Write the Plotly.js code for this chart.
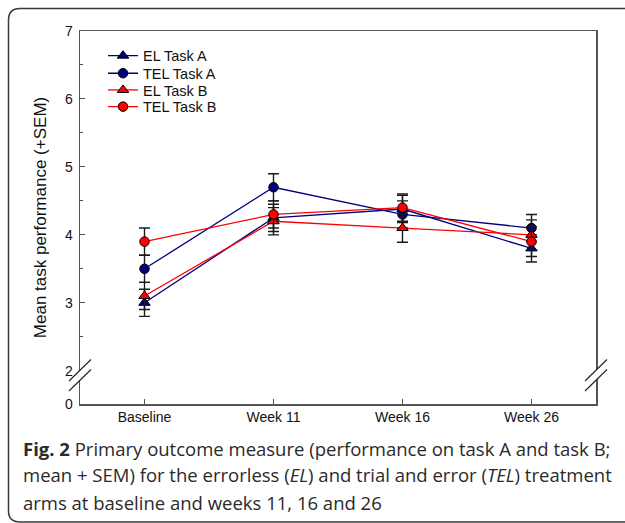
<!DOCTYPE html>
<html>
<head>
<meta charset="utf-8">
<script src="https://cdn.plot.ly/plotly-3.0.1.min.js"></script>
<style>html,body{margin:0;padding:0;background:#fff;}#chart{width:625px;height:523px;}</style>
</head>
<body>
<div id="chart"></div>
<script>
// ---- data ----
var categories = ["Baseline", "Week 11", "Week 16", "Week 26"];
var elTaskA  = [3.0, 4.25, 4.38, 3.8];
var elTaskAErr = [0.2, 0.2, 0.2, 0.2];
var telTaskA = [3.5, 4.7, 4.3, 4.1];
var telTaskAErr = [0.2, 0.2, 0.2, 0.2];
var elTaskB  = [3.1, 4.2, 4.1, 4.0];
var elTaskBErr = [0.2, 0.2, 0.21, 0.22];
var telTaskB = [3.9, 4.3, 4.4, 3.9];
var telTaskBErr = [0.2, 0.2, 0.2, 0.22];
var seriesNames = ["EL Task A", "TEL Task A", "EL Task B", "TEL Task B"];
// broken axis: "0" label drawn at the bottom of the compressed range
var yTickVals = [1.51, 2, 3, 4, 5, 6, 7];
var yTickText = ["0", "2", "3", "4", "5", "6", "7"];
var yMinorVals = [2.5, 3.5, 4.5, 5.5, 6.5];

// ---- layout helpers (pixel -> paper) ----
var L = 80, R = 596, T = 31, B = 404;
function px(x) { return (x - L) / (R - L); }
function py(y) { return (B - y) / (B - T); }

var navy = "#000080", red = "#ff0000";
var legendIds = ["legend", "legend2", "legend3", "legend4"];
function mk(i, y, err, color, symbol, size) {
  return {
    type: "scatter", mode: "lines+markers", name: seriesNames[i], legend: legendIds[i],
    x: categories, y: y,
    line: {color: color, width: 1.3},
    marker: {color: color, symbol: symbol, size: size, line: {color: "#000", width: 1}},
    error_y: {type: "data", array: err, visible: true, color: "#1a1a1a", thickness: 1.4, width: 5.5}
  };
}
var data = [
  mk(0, elTaskA, elTaskAErr, navy, "triangle-up", 10),
  mk(1, telTaskA, telTaskAErr, navy, "circle", 9.5),
  mk(2, elTaskB, elTaskBErr, red, "triangle-up", 10),
  mk(3, telTaskB, telTaskBErr, red, "circle", 9.5)
];

function seg(x0, y0, x1, y1, color, w) {
  return {type: "line", xref: "paper", yref: "paper", x0: px(x0), y0: py(y0), x1: px(x1), y1: py(y1),
          line: {color: color, width: w}, layer: "above"};
}
function breakMarks(ax) {
  return [
    {type: "path", xref: "paper", yref: "paper", layer: "above",
     path: "M " + px(ax - 11) + " " + py(381) + " L " + px(ax + 11) + " " + py(359.5) +
           " L " + px(ax + 11) + " " + py(369.5) + " L " + px(ax - 11) + " " + py(391) + " Z",
     fillcolor: "#ffffff", line: {width: 0}},
    seg(ax - 11, 381, ax + 11, 359.5, "#222", 1.1),
    seg(ax - 11, 391, ax + 11, 369.5, "#222", 1.1)
  ];
}
var shapes = [].concat(breakMarks(L), breakMarks(R));
// rounded outer figure frame
shapes.push({
  type: "path", xref: "paper", yref: "paper", layer: "above",
  path: "M " + px(640) + " " + py(8.5) + " L " + px(20) + " " + py(8.5) +
        " Q " + px(8.5) + " " + py(8.5) + " " + px(8.5) + " " + py(20) +
        " L " + px(8.5) + " " + py(511) +
        " Q " + px(8.5) + " " + py(522) + " " + px(20) + " " + py(522) +
        " L " + px(640) + " " + py(522),
  line: {color: "#3a3a3a", width: 1.5}
});

var capFont = {family: "'Open Sans', sans-serif", size: 18.5, color: "#2a2a2a"};
function cap(text, y) {
  return {xref: "paper", yref: "paper", x: px(21), y: py(y), xanchor: "left", yanchor: "middle",
          text: text, showarrow: false, font: capFont, align: "left"};
}
var annotations = [
  cap("<b>Fig. 2</b> Primary outcome measure (performance on task A and task B;", 448),
  cap("mean + SEM) for the errorless (<i>EL</i>) and trial and error (<i>TEL</i>) treatment", 475),
  cap("arms at baseline and weeks 11, 16 and 26", 502)
];

var legendRows = [55.7, 73.3, 90, 106.7];
function leg(row) {
  return {x: px(103), y: py(row), xanchor: "left", yanchor: "middle", bgcolor: "rgba(0,0,0,0)",
          borderwidth: 0, font: {size: 14.5, family: "'Liberation Sans', Arial, sans-serif", color: "#111"},
          itemwidth: 30};
}

var layout = {
  width: 625, height: 523,
  margin: {l: L, r: 625 - R, t: T, b: 523 - B, pad: 0},
  paper_bgcolor: "#fff", plot_bgcolor: "#fff",
  font: {family: "'Liberation Sans', Arial, sans-serif", size: 14, color: "#111"},
  showlegend: true,
  legend: leg(legendRows[0]),
  legend2: leg(legendRows[1]),
  legend3: leg(legendRows[2]),
  legend4: leg(legendRows[3]),
  xaxis: {
    type: "category", range: [-0.5, 3.5], showgrid: false, zeroline: false,
    showline: true, linecolor: "#555", linewidth: 1.5, mirror: true,
    ticks: "inside", ticklen: 5, tickcolor: "#555", tickwidth: 1,
    tickfont: {size: 14}, fixedrange: true
  },
  yaxis: {
    range: [1.51, 7], showgrid: false, zeroline: false,
    showline: true, linecolor: "#555", linewidth: 1.5, mirror: true,
    tickmode: "array", tickvals: yTickVals, ticktext: yTickText,
    ticks: "inside", ticklen: 5, tickcolor: "#555", tickwidth: 1,
    ticklabelstandoff: 3,
    minor: {tickmode: "array", tickvals: yMinorVals, ticks: "inside", ticklen: 3, tickcolor: "#555", tickwidth: 1},
    tickfont: {size: 14},
    title: {text: "Mean task performance (+SEM)", font: {size: 17, color: "#111"}, standoff: 14},
    fixedrange: true
  },
  shapes: shapes,
  annotations: annotations
};

Plotly.newPlot("chart", data, layout, {staticPlot: true, displayModeBar: false});
</script>
</body>
</html>
